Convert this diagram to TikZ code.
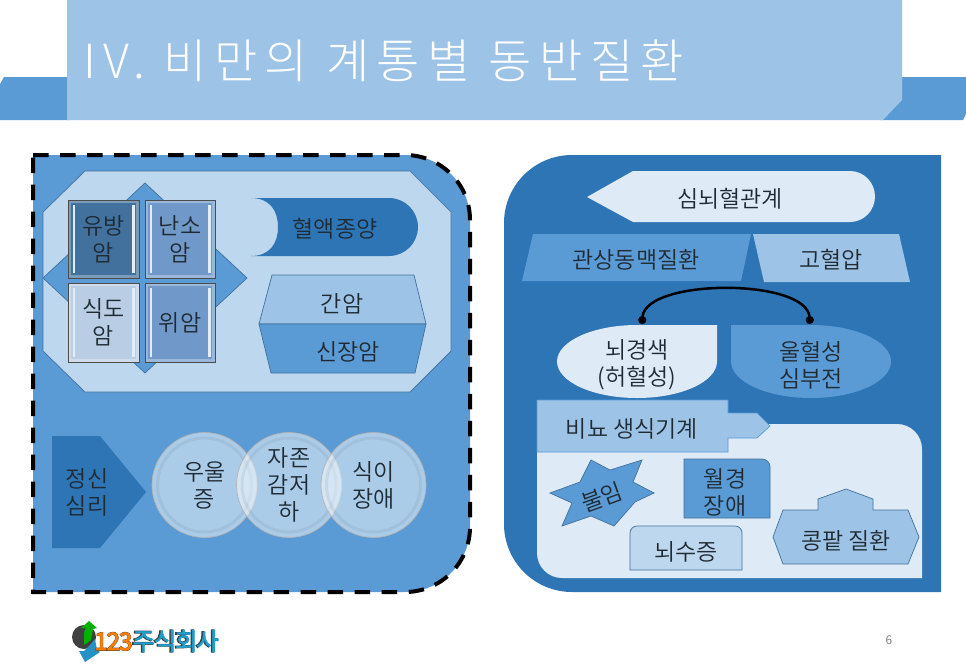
\documentclass[tikz,border=0pt]{standalone}
\usepackage{fontspec}
\setmainfont{Noto Sans CJK KR DemiLight}
\newfontfamily\titlefont[LetterSpace=16]{Noto Sans CJK KR Light}
\newfontfamily\logofont[FakeBold=2,LetterSpace=-5]{Noto Sans CJK KR}
\newfontfamily\logoback[FakeBold=5,LetterSpace=-5]{Noto Sans CJK KR}
\usepackage{tikz}
\usetikzlibrary{arrows.meta}
\definecolor{bluea}{HTML}{5B9BD5}
\definecolor{blueb}{HTML}{2E75B6}
\definecolor{bluec}{HTML}{9DC3E6}
\definecolor{blued}{HTML}{BDD7EE}
\definecolor{bluee}{HTML}{DEEAF6}
\definecolor{edgeb}{HTML}{41719C}
\definecolor{tilemid}{HTML}{7099C9}
\definecolor{tilepale}{HTML}{B9CDE5}
\definecolor{ink}{HTML}{1F2A33}

\begin{document}
\begin{tikzpicture}[
  x = 1pt, y = -1pt, font = \fontsize{23}{27}\selectfont,
  lab/.style   = {align=center, inner sep=0pt, text=ink, yshift=-2pt},
  shp/.style   = {draw=edgeb, line width=0.7pt},
  bev/.style   = {rectangle, draw=black!70, line width=1pt, align=center, inner sep=0pt,
                  minimum width=#1, text=ink, path picture={
                    \fill[white!70!bluec] ([shift={(4.5pt,-5pt)}]path picture bounding box.north west) rectangle ([shift={(7pt,5pt)}]path picture bounding box.south west);
                    \fill[white!70!bluec] ([shift={(-7pt,-5pt)}]path picture bounding box.north east) rectangle ([shift={(-4.5pt,5pt)}]path picture bounding box.south east);
                    \draw[white, opacity=0.3, line width=6pt] (path picture bounding box.south west) rectangle (path picture bounding box.north east);}},
  disc/.style  = {circle, minimum size=105pt, inner sep=0pt, draw=black!30, line width=0.7pt,
                  fill=white, fill opacity=0.49, text opacity=1, align=center, text=ink, path picture={
                    \draw[black, opacity=0.06, line width=3pt] (path picture bounding box.center) circle[radius=47pt];}},
  link/.style  = {{Circle[length=8pt]}-{Circle[length=8pt]}, line width=2.5pt}
]
\useasboundingbox (0,0) rectangle (966,670);
% title band
\fill[bluea] (0,84) -- (4,77) -- (70,77) -- (70,120) -- (0,120) -- cycle;
\fill[bluea] (880,77) -- (966,77) -- (966,114) -- (963,120) -- (880,120) -- cycle;
\fill[bluec] (67,0) -- (902,0) -- (902,100) -- (883,120) -- (67,120) -- cycle;
\node[anchor=west, inner sep=0pt, text=white, font=\titlefont\fontsize{47}{47}\selectfont] (title) at (83,61)
  {IV. 비만의 계통별 동반질환};
% left panel
\draw[fill=bluea, line width=4pt, dash pattern=on 15.5pt off 11.5pt]
  (33,155) -- (405,155) arc[start angle=-90, end angle=0, radius=65] -- (470,527)
  arc[start angle=0, end angle=90, radius=65] -- (33,592) -- cycle;
\draw[shp, fill=blued] (85,171) -- (410,171) -- (451,212) -- (451,351) -- (410,392)
  -- (85,392) -- (43,351) -- (43,212) -- cycle;
\draw[shp, fill=bluea] (145,183) -- (247,278) -- (145,373) -- (43,278) -- cycle;
\node[bev=71pt, minimum height=78pt, fill=edgeb] (breast) at (103.5,239) {유방\\암};
\node[bev=70pt, minimum height=78pt, fill=tilemid] (ovary) at (180,239) {난소\\암};
\node[bev=71pt, minimum height=79pt, fill=tilepale] (esoph) at (103.5,322.5) {식도\\암};
\node[bev=70pt, minimum height=79pt, fill=tilemid] (stomach) at (180,322.5) {위암};
\fill[blueb] (251,198) -- (389,198) arc[start angle=-90, end angle=90, radius=29] -- (251,256)
  .. controls (270,256) and (278,243) .. (278,227) .. controls (278,211) and (270,198) .. (251,198) -- cycle;
\node[lab] (blood) at (335,227) {혈액종양};
\draw[shp, fill=bluec] (272,275) -- (414,275) -- (426,324) -- (259,324) -- cycle;
\draw[shp, fill=bluea] (259,324) -- (426,324) -- (415,373) -- (271,373) -- cycle;
\node[lab] (liver) at (342,302) {간암};
\node[lab] (kidney) at (348,350) {신장암};
\fill[blueb] (52,436) -- (100,436) -- (146,492) -- (100,548) -- (52,548) -- cycle;
\node[lab] (mental) at (87,490) {정신\\심리};
\node[disc] (depress) at (204.5,485) {우울\\증};
\node[disc] (esteem) at (289,485) {자존\\감저\\하};
\node[disc] (eating) at (373.5,485) {식이\\장애};
% right panel
\fill[blueb] (572,155) -- (941,155) -- (941,592) -- (572,592)
  arc[start angle=90, end angle=180, radius=68] -- (504,223)
  arc[start angle=180, end angle=270, radius=68] -- cycle;
\fill[bluee] (633,171) -- (850,171) arc[start angle=-90, end angle=90, x radius=25, y radius=25.5]
  -- (633,222) -- (587,197) -- cycle;
\node[lab] (cardio) at (730,197) {심뇌혈관계};
\fill[bluea] (533,234) -- (751,234) -- (741,281) -- (522,281) -- cycle;
\fill[bluec] (753,234) -- (899,234) -- (910,282) -- (764,282) -- cycle;
\node[lab] (coronary) at (636,258) {관상동맥질환};
\node[lab] (hyper) at (831,258) {고혈압};
\fill[bluee] (717,325) -- (717,361.5) arc[start angle=0, end angle=90, x radius=80, y radius=36.5]
  arc[start angle=90, end angle=270, x radius=80, y radius=36.5] -- cycle;
\fill[bluea] (731,325) -- (811,325) arc[start angle=-90, end angle=90, x radius=80, y radius=36.5]
  arc[start angle=90, end angle=180, x radius=80, y radius=36.5] -- cycle;
\node[lab] (stroke) at (637,363) {뇌경색\\(허혈성)};
\node[lab] (failure) at (811,363) {울혈성\\심부전};
\coordinate (strokepin) at (642,324);
\coordinate (failurepin) at (810,324);
\draw[link] (strokepin) .. controls (645,278) and (807,278) .. (failurepin);
\fill[bluee] (537,424) -- (897,424) arc[start angle=-90, end angle=0, radius=25] -- (922,578)
  -- (562,578) arc[start angle=90, end angle=180, radius=25] -- cycle;
\draw[draw=bluea, line width=0.7pt, fill=bluec] (537,400) -- (728,400) -- (728,413) -- (757,413) -- (770,426)
  -- (757,438) -- (728,438) -- (728,452) -- (537,452) -- cycle;
\node[lab] (uro) at (632,427) {비뇨 생식기계};
\draw[shp, fill=bluea] (550,493) -- (580,482) -- (591,460) -- (610,470) -- (642,460) -- (633,482)
  -- (654,493) -- (635,502) -- (614,526) -- (591,516) -- (562,526) -- (572,503) -- cycle;
\node[lab, rotate=20] (infert) at (602,495) {불임};
\draw[shp, fill=bluea] (684,459) -- (762,459) arc[start angle=-90, end angle=0, radius=8] -- (770,518) -- (684,518) -- cycle;
\node[lab] (mens) at (725,490) {월경\\장애};
\draw[shp, fill=blued] (630,570) -- (630,533) arc[start angle=180, end angle=270, radius=7] -- (735,526)
  arc[start angle=-90, end angle=0, radius=7] -- (742,570) -- cycle;
\node[lab] (hydro) at (686,550) {뇌수증};
\draw[shp, fill=bluec] (773,537) -- (783,510) -- (818,510) -- (818,499) -- (846,489) -- (873,499) -- (873,510)
  -- (908,510) -- (919,537) -- (908,564) -- (783,564) -- cycle;
\node[lab] (renal) at (846,539) {콩팥 질환};
% footer
\node[text=black!55, font=\fontsize{12}{12}\selectfont] (page) at (889,640) {6};
\fill[black!75] (84,637) circle[radius=12];
\fill[green!70!black] (89,621) -- (97,628) -- (93,629) -- (91,640) -- (84,645) -- (84,632) -- (86,628) -- (81,628) -- cycle;
\fill[blueb!80!cyan] (85,662) -- (79,651) -- (84,651) -- (90,645) -- (95,639) -- (97,650) -- (100,652) -- cycle;
\node[anchor=west, inner sep=0pt, text=black!75, font=\logoback\fontsize{24.5}{25}\selectfont] (logoback) at (94,641)
  {123주식회사};
\node[anchor=west, inner sep=0pt, font=\logofont\fontsize{24.5}{25}\selectfont] (logo) at (94,641)
  {\textcolor{orange}{123}\textcolor{blueb!70!cyan}{주식회사}};
\end{tikzpicture}
\end{document}
